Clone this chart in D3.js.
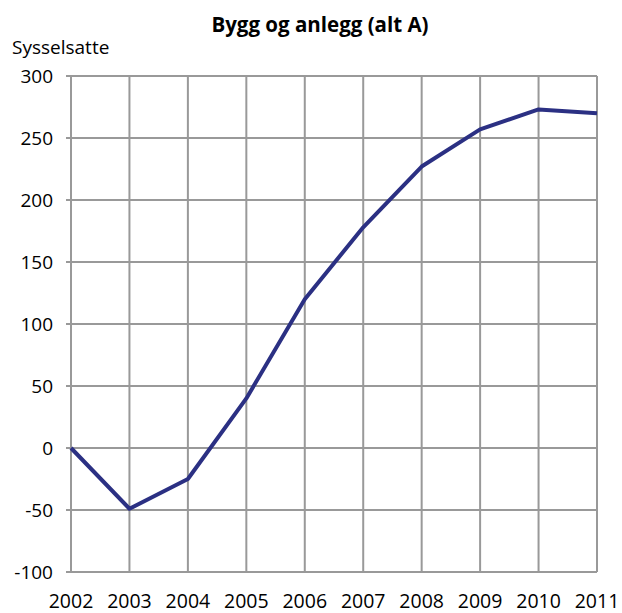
<!DOCTYPE html>
<html><head><meta charset="utf-8">
<script src="https://cdn.jsdelivr.net/npm/d3@7"></script>
<style>body{margin:0;background:#fff}svg{display:block}text{font-family:"Open Sans",sans-serif;fill:#000}</style>
</head><body>
<script>
const years = [2002,2003,2004,2005,2006,2007,2008,2009,2010,2011];
const values = [0,-49,-25,40,120,178,227,257,273,270];
const yTicks = [-100,-50,0,50,100,150,200,250,300];
const title = "Bygg og anlegg (alt A)";
const yLabel = "Sysselsatte";

const W=622,H=613;
const m={left:71,right:25,top:76,bottom:41};
const svg=d3.select("body").append("svg").attr("width",W).attr("height",H);
const x=d3.scaleLinear().domain([2002,2011]).range([m.left,W-m.right]);
const y=d3.scaleLinear().domain([-100,300]).range([H-m.bottom,m.top]);
const grid="#999999";

const g=svg.append("g");
g.selectAll(".hg").data(yTicks).join("line")
 .attr("x1",m.left-5).attr("x2",x(2011)).attr("y1",d=>y(d)).attr("y2",d=>y(d))
 .attr("stroke",grid).attr("stroke-width",2);
g.selectAll(".vg").data(years).join("line")
 .attr("x1",d=>x(d)).attr("x2",d=>x(d)).attr("y1",y(300)).attr("y2",y(-100))
 .attr("stroke",grid).attr("stroke-width",2);

g.selectAll(".yl").data(yTicks).join("text")
 .attr("x",m.left-18).attr("y",d=>y(d)).attr("dy","0.36em")
 .attr("text-anchor","end").attr("font-size",19).text(d=>d);
g.selectAll(".xl").data(years).join("text")
 .attr("x",d=>x(d)).attr("y",H-5)
 .attr("text-anchor","middle").attr("font-size",19.5).text(d=>d);

svg.append("text").attr("x",320).attr("y",32).attr("text-anchor","middle")
 .attr("font-size",20.5).attr("font-weight","bold").text(title);
svg.append("text").attr("x",12).attr("y",54).attr("font-size",19).text(yLabel);

const line=d3.line().x((d,i)=>x(years[i])).y(d=>y(d));
svg.append("path").datum(values).attr("d",line).attr("fill","none")
 .attr("stroke","#2b3083").attr("stroke-width",4).attr("stroke-linejoin","round");
</script>
</body></html>
